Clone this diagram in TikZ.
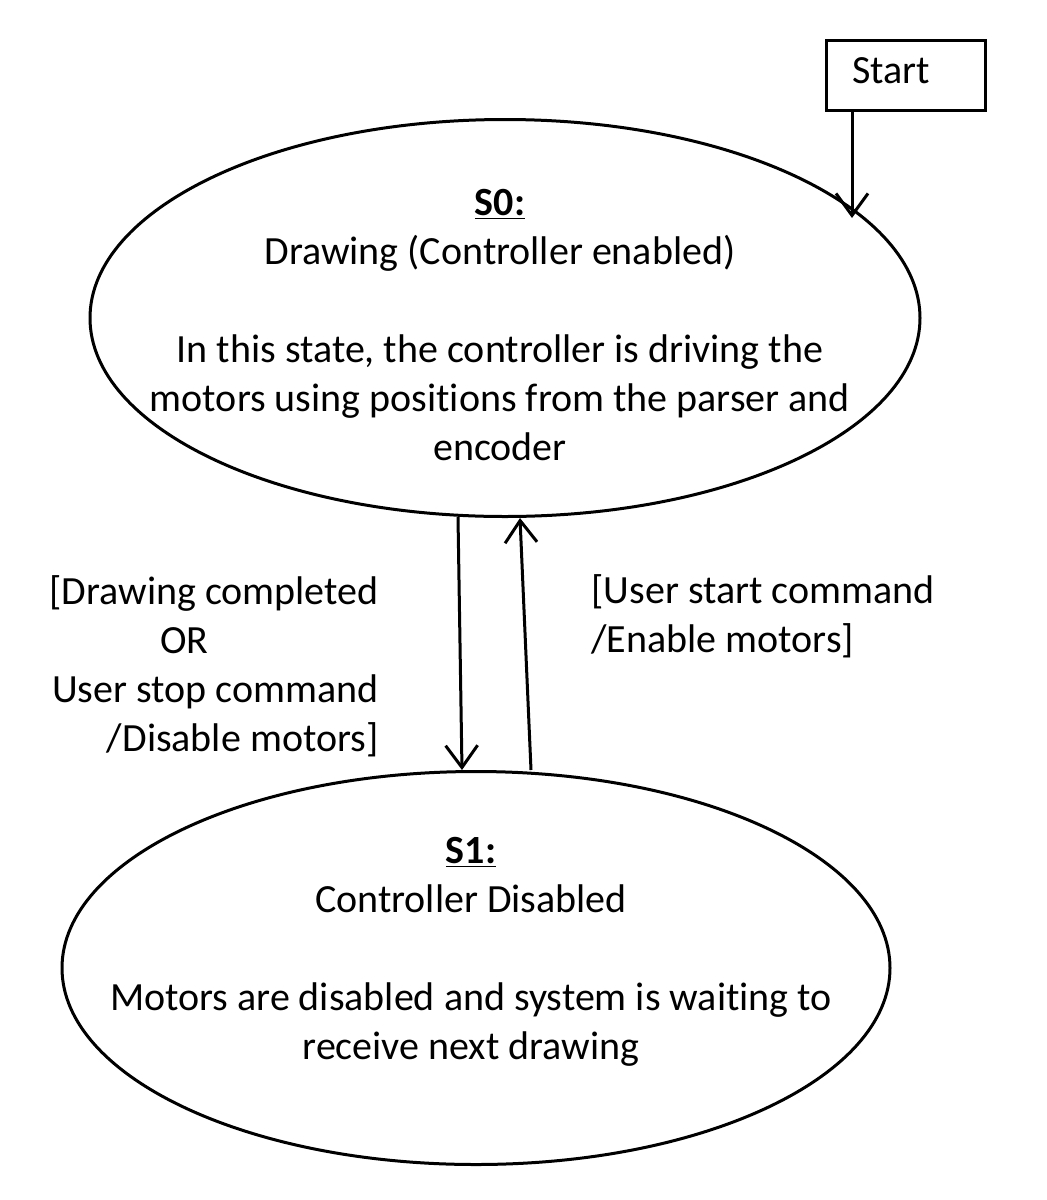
\documentclass[tikz,border=0pt]{standalone}
\usepackage{fontspec}
\setmainfont{Carlito}[Ligatures=NoCommon]
\usetikzlibrary{shapes.geometric,arrows.meta,calc}
\newcommand{\nl}{\kern0pt}
\begin{document}
\begin{tikzpicture}[x=0.5pt,y=-0.5pt,
  line width=1.5pt,
  arr/.style={-{Straight Barb[length=11pt,width=16pt,line width=1.5pt]}},
  state/.style={draw,ellipse,inner sep=0pt},
  txt/.style={font=\fontsize{20}{24.5}\selectfont,inner sep=0pt},
  startbox/.style={draw,inner sep=0pt,minimum width=79.5pt,minimum height=35pt}]
\useasboundingbox (0,0) rectangle (1046,1200);
% states
\node[state,minimum width=415pt,minimum height=198.5pt] (s0) at (505,318) {};
\node[state,minimum width=414pt,minimum height=196.5pt] (s1) at (476,968) {};
\node[txt,align=center] (t0) at (500,325) {\textbf{\underline{S0:}}\\Drawing (Controller enabled)\\[24.5pt]In this state, the controller is driving the\\motors using posit\nl ions from the parser and\\encoder};
\node[txt,align=center] (t1) at (471,952) {\textbf{\underline{S1:}}\\Controller Disabled\\[24.5pt]Motors are disabled and system is wait\nl ing to\\receive next drawing};
% start
\node[startbox] (start) at (905.5,75) {};
\node[txt] (starttxt) at (891,71) {Start};
\coordinate (s0in) at (852,218);
\coordinate (startout) at (s0in |- start.south);
\draw[arr] (startout) -- (s0in);
% transitions
\coordinate (a1) at ($(s0.south)+(-47,-1)$);
\coordinate (a2) at ($(s1.north)+(-14,0)$);
\coordinate (b1) at ($(s1.north)+(55,0)$);
\coordinate (b2) at ($(s0.south)+(15,0)$);
\draw[arr] (a1) -- (a2);
\draw[arr] (b1) -- (b2);
% labels
\node[txt,align=right,anchor=east] (l1) at (380,666) {[Drawing completed\\OR\rule{85pt}{0pt}\\User stop command\\/Disable motors]};
\node[txt,align=left,anchor=west] (l2) at (590,616) {[User start command\\/Enable motors]};
\end{tikzpicture}
\end{document}
